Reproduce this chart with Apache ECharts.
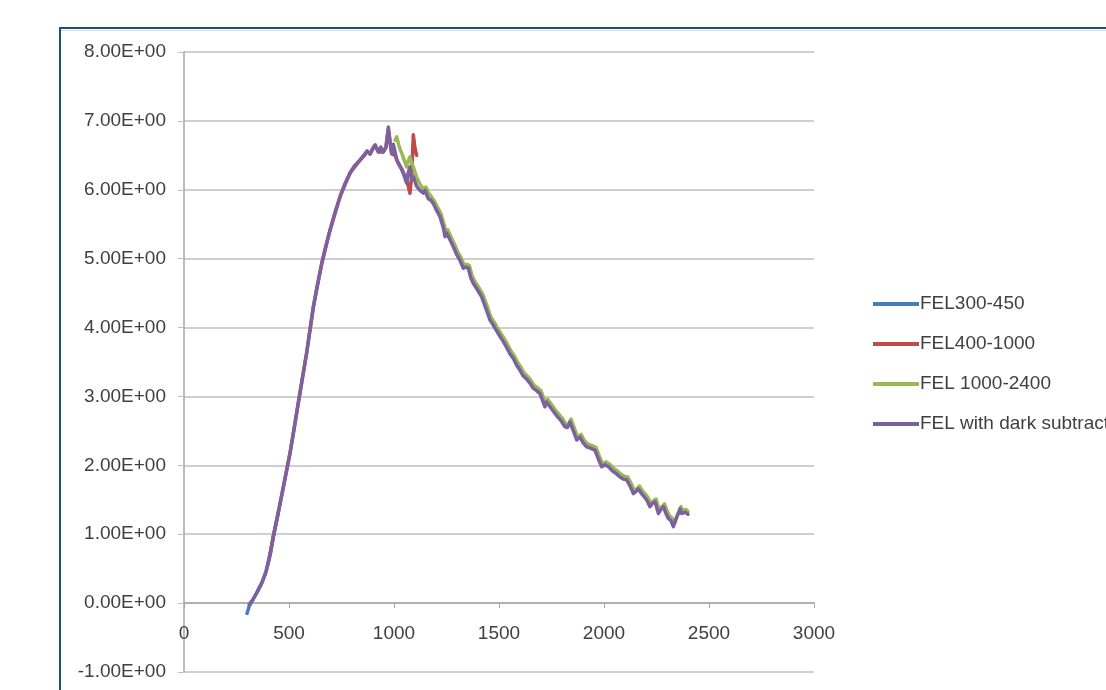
<!DOCTYPE html>
<html>
<head>
<meta charset="utf-8">
<script src="https://cdn.jsdelivr.net/npm/echarts@6/dist/echarts.min.js"></script>
<style>
html,body{margin:0;padding:0;background:#fff;}
#chart{width:1106px;height:690px;}
</style>
</head>
<body>
<div id="chart"></div>
<script>
var seriesNames = ["FEL300-450", "FEL400-1000", "FEL 1000-2400", "FEL with dark subtraction"];
var seriesColors = ["#4a7ebb", "#be4b48", "#98b954", "#7d60a0"];

var blueData = [[300,-0.15],[310,-0.05],[330,0.06],[350,0.17],[370,0.29],[390,0.45],[410,0.70],[425,0.96],[450,1.33]];

var redData = [[400,0.57],[425,0.96],[465,1.56],[505,2.18],[544,2.90],[584,3.63],[616,4.30],[656,4.93],[695,5.41],[743,5.90],[790,6.24],[838,6.43],[872,6.56],[886,6.52],[910,6.65],[925,6.55],[949,6.55],[962,6.62],[973,6.88],[989,6.52],[1005,6.50],[1021,6.38],[1037,6.30],[1060,6.15],[1076,5.95],[1084,6.19],[1092,6.80],[1100,6.60],[1108,6.50]];

var greenData = [[1005,6.72],[1013,6.77],[1025,6.62],[1037,6.53],[1050,6.42],[1060,6.33],[1068,6.42],[1076,6.48],[1084,6.40],[1092,6.33],[1108,6.18],[1124,6.08],[1140,6.01],[1152,6.04],[1163,5.96],[1178,5.90],[1192,5.84],[1208,5.74],[1224,5.65],[1240,5.48],[1248,5.38],[1256,5.42],[1272,5.31],[1288,5.21],[1305,5.09],[1320,5.01],[1335,4.90],[1347,4.92],[1359,4.90],[1371,4.76],[1383,4.68],[1400,4.60],[1422,4.49],[1440,4.34],[1462,4.15],[1475,4.09],[1488,4.02],[1510,3.91],[1525,3.84],[1540,3.76],[1557,3.66],[1573,3.59],[1590,3.49],[1605,3.42],[1620,3.34],[1637,3.29],[1653,3.23],[1668,3.16],[1685,3.12],[1700,3.08],[1715,2.96],[1724,2.89],[1732,2.96],[1740,2.94],[1760,2.84],[1780,2.76],[1800,2.69],[1819,2.60],[1831,2.59],[1843,2.67],[1859,2.54],[1875,2.41],[1891,2.45],[1905,2.37],[1922,2.31],[1940,2.29],[1962,2.26],[1977,2.14],[1994,2.02],[2010,2.05],[2026,2.02],[2045,1.96],[2063,1.92],[2081,1.87],[2097,1.84],[2113,1.83],[2129,1.74],[2145,1.63],[2157,1.66],[2169,1.70],[2181,1.64],[2192,1.60],[2208,1.54],[2224,1.44],[2236,1.49],[2248,1.51],[2264,1.34],[2276,1.40],[2288,1.44],[2300,1.34],[2311,1.27],[2323,1.24],[2335,1.15],[2343,1.22],[2351,1.29],[2359,1.34],[2367,1.40],[2375,1.34],[2383,1.32],[2391,1.36],[2400,1.33]];

var darkData = [[310,-0.02],[330,0.06],[350,0.17],[370,0.29],[390,0.45],[410,0.70],[425,0.96],[445,1.25],[465,1.56],[485,1.87],[505,2.18],[525,2.54],[544,2.90],[564,3.27],[584,3.63],[600,3.97],[616,4.30],[636,4.63],[656,4.93],[675,5.18],[695,5.41],[720,5.68],[743,5.90],[765,6.08],[790,6.24],[812,6.35],[838,6.43],[860,6.50],[872,6.56],[886,6.52],[898,6.60],[910,6.65],[925,6.55],[937,6.62],[949,6.55],[962,6.62],[973,6.91],[981,6.70],[989,6.53],[997,6.66],[1005,6.55],[1013,6.43],[1028,6.35],[1044,6.24],[1060,6.10],[1068,6.25],[1076,6.33],[1084,6.15],[1092,6.19],[1108,6.05],[1124,5.99],[1140,5.95],[1148,5.99],[1163,5.87],[1175,5.85],[1187,5.80],[1203,5.70],[1219,5.61],[1235,5.45],[1243,5.32],[1251,5.37],[1267,5.27],[1283,5.17],[1300,5.05],[1315,4.97],[1330,4.86],[1342,4.88],[1354,4.86],[1366,4.72],[1378,4.64],[1395,4.56],[1417,4.45],[1435,4.30],[1457,4.11],[1470,4.05],[1483,3.98],[1505,3.87],[1520,3.80],[1535,3.72],[1552,3.62],[1568,3.55],[1585,3.45],[1600,3.38],[1615,3.30],[1632,3.25],[1648,3.19],[1663,3.12],[1680,3.08],[1695,3.04],[1710,2.92],[1719,2.85],[1727,2.92],[1735,2.90],[1755,2.80],[1775,2.72],[1795,2.65],[1814,2.56],[1826,2.55],[1838,2.63],[1854,2.50],[1870,2.37],[1886,2.41],[1900,2.33],[1917,2.27],[1935,2.25],[1957,2.22],[1972,2.10],[1989,1.98],[2005,2.01],[2021,1.98],[2040,1.92],[2058,1.88],[2076,1.83],[2092,1.80],[2108,1.79],[2124,1.70],[2140,1.59],[2152,1.62],[2164,1.66],[2176,1.60],[2187,1.56],[2203,1.50],[2219,1.40],[2231,1.45],[2243,1.47],[2259,1.30],[2271,1.36],[2283,1.40],[2295,1.30],[2306,1.23],[2318,1.20],[2330,1.11],[2338,1.18],[2346,1.25],[2354,1.30],[2362,1.37],[2370,1.30],[2378,1.28],[2386,1.32],[2394,1.30],[2400,1.29]];

var xAxisMin = 0, xAxisMax = 3000, xAxisStep = 500;
var yAxisMin = -1, yAxisMax = 8, yAxisStep = 1;

var allData = [blueData, redData, greenData, darkData];

function sciLabel(v) {
  return v.toExponential(2).replace(/e([+-])(\d)$/, 'E$10$2');
}
function plainLabel(v) {
  return String(v);
}

var chart = echarts.init(document.getElementById('chart'), null, {renderer: 'canvas'});
var fontFamily = '"Liberation Sans", Arial, sans-serif';

chart.setOption({
  animation: false,
  backgroundColor: '#ffffff',
  graphic: [{
    type: 'rect',
    z: 100,
    shape: {x: 60, y: 28, width: 1080, height: 700},
    style: {fill: 'none', stroke: '#1f4e79', lineWidth: 2}
  }, {
    type: 'line',
    z: 99,
    shape: {x1: 61, y1: 30.5, x2: 1106, y2: 30.5},
    style: {stroke: '#d8dde3', lineWidth: 1}
  }],
  grid: {left: 184, right: 292, top: 52, bottom: 18, containLabel: false, outerBoundsMode: 'none'},
  legend: {
    orient: 'vertical',
    left: 868,
    top: 289,
    itemWidth: 46,
    itemHeight: 4,
    itemGap: 20,
    icon: 'rect',
    data: seriesNames,
    textStyle: {fontFamily: fontFamily, fontSize: 19, color: '#404040', lineHeight: 20, padding: [0, 0, 0, -4]}
  },
  xAxis: {
    type: 'value',
    position: 'bottom',
    offset: -69,
    min: xAxisMin, max: xAxisMax, interval: xAxisStep,
    axisLine: {show: true, onZero: false, lineStyle: {color: '#a6a6a6', width: 1.5}},
    axisTick: {show: true, length: 5, lineStyle: {color: '#a6a6a6'}},
    axisLabel: {margin: 21, color: '#404040', fontFamily: fontFamily, fontSize: 19, formatter: plainLabel},
    splitLine: {show: false}
  },
  yAxis: {
    type: 'value',
    min: yAxisMin, max: yAxisMax, interval: yAxisStep,
    axisLine: {show: true, onZero: false, lineStyle: {color: '#a6a6a6', width: 1.5}},
    axisTick: {show: true, length: 6, lineStyle: {color: '#bfbfbf'}},
    axisLabel: {margin: 18, color: '#404040', fontFamily: fontFamily, fontSize: 19, formatter: sciLabel},
    splitLine: {show: true, lineStyle: {color: '#bfbfbf', width: 1.5}}
  },
  series: seriesNames.map(function (name, i) {
    return {
      name: name,
      type: 'line',
      data: allData[i],
      symbol: 'none',
      smooth: false,
      z: 2 + i,
      color: seriesColors[i],
      lineStyle: {color: seriesColors[i], width: 3.5, join: 'round', cap: 'round'}
    };
  })
});
</script>
</body>
</html>
